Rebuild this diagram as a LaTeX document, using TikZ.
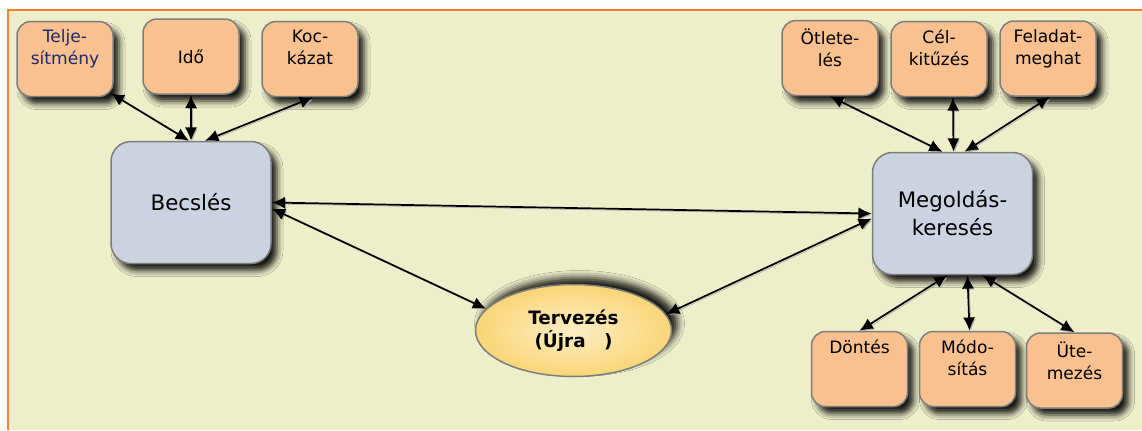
\documentclass[tikz,border=0pt]{standalone}
\usepackage{fontspec}
\setmainfont{DejaVu Sans}
\usetikzlibrary{shapes.geometric,shadows.blur,arrows.meta}

\newlength{\du}
\setlength{\du}{0.75pt}

\definecolor{pagebg}{RGB}{237,239,202}
\definecolor{frameline}{RGB}{255,128,32}
\definecolor{peach}{RGB}{249,192,144}
\definecolor{bluegrey}{RGB}{204,210,224}
\definecolor{boxline}{RGB}{125,125,125}
\definecolor{ellipin}{RGB}{252,238,196}
\definecolor{ellipout}{RGB}{249,213,118}
\definecolor{darkblue}{RGB}{30,40,110}

\newcommand{\toptext}[1]{\parbox[c][58\du][t]{94\du}{\centering #1}}

\tikzset{
  boxshadow/.style={blur shadow={shadow xshift=6\du, shadow yshift=-7\du,
    shadow blur radius=6\du, shadow opacity=90}},
  taskbox/.style={draw=boxline, line width=1.5\du, fill=peach,
    rounded corners=14\du, minimum width=96\du, minimum height=75\du,
    inner sep=0pt, align=center, boxshadow,
    font=\fontsize{12.8}{16.5}\selectfont},
  mainbox/.style={draw=boxline, line width=1.5\du, fill=bluegrey,
    rounded corners=20\du, minimum width=160\du, minimum height=122\du,
    inner sep=0pt, align=center, boxshadow,
    font=\fontsize{16}{21}\selectfont},
  planellipse/.style={ellipse, draw=boxline, line width=1.5\du,
    inner color=ellipin, outer color=ellipout,
    minimum width=196\du, minimum height=92\du, inner sep=0pt,
    align=center, font=\fontsize{13.8}{17}\selectfont\bfseries,
    blur shadow={shadow xshift=6\du, shadow yshift=7\du,
      shadow blur radius=7\du, shadow opacity=90}},
  link/.style={{Latex[length=10pt,width=9pt]}-{Latex[length=10pt,width=9pt]},
    line width=1.3pt,
    preaction={draw=black!35, transform canvas={xshift=1.1pt,yshift=-1.1pt}}},
}

\begin{document}
\begin{tikzpicture}[x=\du,y=-\du]
\useasboundingbox (0,0) rectangle (1142,430);
\fill[pagebg] (8,10) rectangle (1142,430);
\draw[frameline, line width=2\du] (8,430) -- (8,10) -- (1142,10);

% becsles oldal
\node[mainbox] (becs) at (191,202.5) {Becslés};
\node[taskbox] (tel) at (65,59) {\toptext{\color{darkblue}Telje-\\sítmény}};
\node[taskbox] (ido) at (191,56.5) {Idő};
\node[taskbox] (koc) at (310,59) {\toptext{Koc-\\kázat}};

% megoldaskereses oldal
\node[mainbox] (meg) at (952.5,213.5) {Megoldás-\\keresés};
\node[taskbox] (oetl) at (830,58) {\toptext{Ötlete-\\lés}};
\node[taskbox] (cel) at (939,59) {\toptext{Cél-\\kitűzés}};
\node[taskbox] (fel) at (1048,58.5) {\toptext{Feladat-\\meghat}};
\node[taskbox] (dont) at (859.5,369) {\toptext{Döntés}};
\node[taskbox] (modo) at (967.5,369) {\toptext{Módo-\\sítás}};
\node[taskbox] (ute) at (1074.5,370.5) {\toptext{Üte-\\mezés}};

\node[planellipse] (plan) at (573.5,330.5) {Tervezés\\(Újra\hspace{1em})};

\draw[link] ([shift={(-2.25pt,3pt)}]tel.south east) -- ([xshift=-1.5pt]becs.north);
\draw[link] (ido.south) -- (becs.north);
\draw[link] ([xshift=2.25pt]koc.south) -- ([xshift=10.5pt]becs.north);
\draw[link] (becs.east) -- (meg.west);
\draw[link] ([yshift=-4.5pt]becs.east) -- (plan.166);
\draw[link] ([yshift=-3.75pt]meg.west) -- (plan.10);
\draw[link] (oetl.south) -- ([xshift=-7.5pt]meg.north);
\draw[link] ([xshift=10.5pt]cel.south) -- ([xshift=0.75pt]meg.north);
\draw[link] ([xshift=1.5pt]fel.south) -- ([xshift=9pt]meg.north);
\draw[link] ([xshift=-3.75pt]meg.south) -- (dont.north);
\draw[link] ([xshift=11.25pt]meg.south) -- ([xshift=1.5pt]modo.north);
\draw[link] ([xshift=22.5pt]meg.south) -- (ute.north);
\end{tikzpicture}
\end{document}
